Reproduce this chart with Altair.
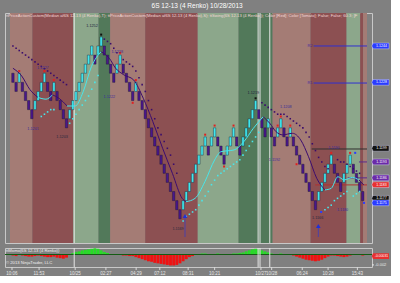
import altair as alt
import pandas as pd

# ---------------- data ----------------
BRICK = 0.0004
brick_dir = ["D","D","U","D","D","D","D","U","U","U",
             "U","D","D","U","D","D","D","D","U","U",
             "U","U","U","U","U","U","D","U","U","D",
             "D","D","D","U","U","D","D","D","D","U",
             "D","D","D","D","D","D","D","D","D","D",
             "D","D","D","D","U","U","U","U","U","U",
             "U","U","D","U","U","D","D","D","U","U",
             "U","D","D","U","U","U","U","U","D","D",
             "D","U","D","D","U","U","D","D","U","D",
             "D","D","D","D","D","D","D","U","U","U",
             "U","U","D","D","D","U","U","U","D","D",
             "D","D"]
brick_low = [1.1228,1.1224,1.1228,1.1224,1.1220,1.1216,1.1212,1.1216,1.1220,1.1224,
             1.1228,1.1224,1.1220,1.1224,1.1220,1.1216,1.1212,1.1208,1.1212,1.1216,
             1.1220,1.1224,1.1228,1.1232,1.1236,1.1240,1.1236,1.1240,1.1244,1.1240,
             1.1236,1.1232,1.1228,1.1232,1.1236,1.1232,1.1228,1.1224,1.1220,1.1224,
             1.1220,1.1216,1.1212,1.1208,1.1204,1.1200,1.1196,1.1192,1.1188,1.1184,
             1.1180,1.1176,1.1172,1.1168,1.1172,1.1176,1.1180,1.1184,1.1188,1.1192,
             1.1196,1.1200,1.1196,1.1200,1.1204,1.1200,1.1196,1.1192,1.1196,1.1200,
             1.1204,1.1200,1.1196,1.1200,1.1204,1.1208,1.1212,1.1216,1.1212,1.1208,
             1.1204,1.1208,1.1204,1.1200,1.1204,1.1208,1.1204,1.1200,1.1204,1.1200,
             1.1196,1.1192,1.1188,1.1184,1.1180,1.1176,1.1172,1.1176,1.1180,1.1184,
             1.1188,1.1192,1.1188,1.1184,1.1180,1.1184,1.1188,1.1192,1.1188,1.1184,
             1.1180,1.1176]

momentum = [-0.0002,-0.0003,-0.0001,-0.0002,-0.0003,-0.0004,-0.0004,
            -0.0003,-0.0002,-0.0003,-0.0004,-0.0005,-0.0005,-0.0004,-0.0006,-0.0007,-0.0008,-0.0006,
            0.0001,0.0003,0.0005,0.0006,0.0008,0.0009,0.0010,0.0011,0.0012,0.0011,0.0008,0.0005,0.0003,
            0.0001,0.0000,-0.0001,-0.0001,-0.0002,-0.0002,-0.0003,-0.0003,
            -0.0005,-0.0007,-0.0009,-0.0011,-0.0013,-0.0014,-0.0016,-0.0017,-0.0018,-0.0019,-0.0020,-0.0021,-0.0021,-0.0020,-0.0017,
            -0.0013,-0.0009,-0.0005,-0.0003,-0.0001,
            0.0001,0.0002,0.0002,0.0001,0.0000,0.0001,0.0002,0.0001,-0.0001,-0.0001,0.0001,0.0002,0.0002,0.0003,
            0.0004,0.0006,0.0008,0.0010,0.0011,0.0010,0.0008,0.0006,0.0004,0.0002,
            0.0001,0.0001,0.0002,0.0001,0.0000,-0.0001,-0.0002,
            -0.0004,-0.0006,-0.0008,-0.0010,-0.0011,-0.0012,-0.0013,-0.0012,-0.0010,-0.0007,-0.0004,-0.0002,
            -0.0002,-0.0003,-0.0004,-0.0005,-0.0004,-0.0002,-0.0001,0.0001,0.0000,-0.0002]

# smoothed average, by segment (c = rising/cyan, p = falling/purple)
avg_seg = ["p1"]*4 + ["c1"]*3 + ["p2"]*3 + ["c2"]*5 + ["p3"]*11 + ["c3"]*9 + ["p4"]*9 + ["c4"]*6 + ["p5"]*2
avg_idx = [0, 2.78, 5.35, 7.92,
           7.92, 10.49, 12.55,
           12.55, 14.6, 17.18,
           17.18, 19.75, 22.3, 24.9, 27.98,
           27.98, 30.56, 32.6, 35.19, 38.27, 41.36, 44.4, 47.5, 50.6, 53.7, 54.9,
           54.9, 57.8, 60.9, 64, 66, 70.2, 73.25, 76.3, 79.4,
           79.4, 81.5, 83.5, 85.6, 88.7, 91.3, 93.8, 96.4, 99,
           99, 101, 103.1, 105.1, 107.7, 109.8,
           109.8, 111.3]
avg_val = [1.12342, 1.12308, 1.12249, 1.12214,
           1.12214, 1.12206, 1.12225,
           1.12225, 1.12210, 1.12176,
           1.12176, 1.12176, 1.12239, 1.12349, 1.12415,
           1.12415, 1.12386, 1.12342, 1.12313, 1.12291, 1.12210, 1.12107, 1.11990, 1.11880, 1.11770, 1.11755,
           1.11755, 1.11770, 1.11843, 1.11939, 1.11975, 1.11983, 1.12019, 1.12078, 1.12129,
           1.12129, 1.12100, 1.12063, 1.12049, 1.12056, 1.12027, 1.11953, 1.11858, 1.11807,
           1.11807, 1.11814, 1.11865, 1.11851, 1.11862, 1.11851,
           1.11851, 1.11829]

# trailing-stop dots
trail_up_idx = [9,10,11,12,13,
                18,19,20,21,22,23,24,25,26,27,
                54,55,56,57,58,59,60,61,62,63,64,65,66,67,68,69,70,71,72,73,74,75,76,77,78,
                99,100,101,102,103,104,105,106,
                108,109,110]
trail_up_val = [1.1213,1.1214,1.1215,1.1216,1.1216,
                1.1210,1.1212,1.1214,1.1216,1.1218,1.1220,1.1222,1.1225,1.1228,1.1231,
                1.1167,1.1169,1.1170,1.1171,1.1172,1.1174,1.1176,1.1178,1.1180,1.1183,1.1185,1.1187,1.1188,
                1.1189,1.1190,1.1191,1.1192,1.1193,1.1194,1.1196,1.1198,1.1200,1.1202,1.1204,1.1206,
                1.1172,1.1173,1.1174,1.1176,1.1177,1.1178,1.1179,1.1180,
                1.1178,1.1179,1.1180]
trail_dn_idx = list(range(0, 18)) + [29,30,31,32,33] + list(range(35, 53)) + list(range(79, 101)) + list(range(103, 111))
trail_dn_val = [1.1244,1.1243,1.1242,1.1241,1.1240,1.1239,1.1238,1.1237,1.1236,1.1235,
                1.1234,1.1233,1.1232,1.1231,1.1230,1.1229,1.1228,1.1227,
                1.1247,1.1246,1.1245,1.1243,1.1241,
                1.1238,1.1237,1.1236,1.1235,1.1233,1.1230,1.1227,1.1224,1.1220,1.1216,1.1212,1.1208,
                1.1205,1.1202,1.1199,1.1196,1.1192,1.1188,
                1.1219,1.1218,1.1217,1.1216,1.1215,1.1214,1.1214,1.1214,1.1213,1.1212,1.1211,1.1210,
                1.1209,1.1208,1.1206,1.1204,1.1201,1.1198,1.1195,1.1193,1.1191,1.1190,
                1.1194,1.1193,1.1193,1.1192,1.1191,1.1190,1.1189,1.1188]

# swing dots
dot_idx = [2, 10, 13, 28, 34, 38, 39, 61, 64, 67, 70, 77, 84, 85, 88, 90, 101, 107, 97.8, 108.6, 111.4]
dot_val = [1.1233, 1.1233, 1.1229, 1.1249, 1.1241, 1.1219, 1.1229, 1.1205, 1.1209, 1.1191, 1.1209,
           1.1221, 1.1209, 1.1213, 1.1209, 1.1192, 1.1197, 1.1197, 1.1171, 1.1197, 1.1175]
dot_col = ["#e02020"]*3 + ["#101010"] + ["#e02020"]*7 + ["#101010"] + ["#e02020"]*6 + ["#2a3cff"]*3

# swing labels
lab_text = ["1.1252", "1.1227", "1.1201", "1.1203", "1.1222", "1.1228", "1.1169",
            "1.1219", "1.1192", "1.1208", "1.1166", "1.1190", "1.1180"]
lab_idx = [25.1, 9.5, 6.4, 15.6, 30.6, 33.1, 52.4, 76.3, 83.0, 86.6, 96.7, 101.9, 104.6]
lab_val = [1.12528, 1.12342, 1.12074, 1.12038, 1.12217, 1.12415, 1.11634,
           1.12235, 1.11939, 1.12170, 1.11682, 1.11990, 1.11719]
lab_col = ["#1c1c3a", "#3a2c9a", "#3a2c9a", "#2a2a40", "#3a2c9a", "#3a2c9a", "#2a2a40",
           "#1c1c3a", "#3a2c9a", "#3a2c9a", "#2a2a40", "#3a2c9a", "#3a2c9a"]

# swing-low arrows
arrow_idx = [54.6, 96.9]
arrow_val = [1.11692, 1.11648]
arrow_base = 1.1160

# horizontal levels on the right
lvl_start = [95.4, 95.4, 94.8, 95.9, 106.2, 109.8]
lvl_val = [1.1244, 1.12277, 1.11987, 1.11829, 1.1186, 1.1193]
lvl_col = ["#3030d0", "#3030d0", "#303030", "#b03030", "#5a2a90", "#5a2a90"]
lvl_name = ["R2", "R1", "", "", "", ""]

# right-axis value flags
flag_val = [1.1244, 1.1228, 1.1199, 1.1193, 1.1186, 1.1183, 1.1177, 1.1175]
flag_txt = ["1.1244", "1.1228", "1.1199", "1.1193", "1.1186", "1.1183", "1.1177", "1.1175"]
flag_col = ["#2a3cff", "#2a3cff", "#101010", "#6a2aa8", "#6a2aa8", "#e83030", "#101010", "#2a3cff"]

# background session bands
band_start = [-0.93, 6.17, 19.14, 27.16, 30.86, 41.98, 58.64, 71.6, 82.4, 94.44, 105.86, 110.19, 111.11]
band_end = [6.17, 19.14, 27.16, 30.86, 41.98, 58.64, 71.6, 82.4, 94.44, 105.86, 110.19, 111.11, 112.35]
band_kind = ["lr", "dr", "lg", "dg", "lr", "dr", "lg", "dg", "lr", "dr", "lg", "dr", "lr"]
session_lines = [19.44, 77.8, 78.4, 81.5]

# time axis
time_pos = [-0.3, 8.3, 19.75, 29.5, 39.1, 46.6, 55.6, 64, 78.7, 82.1, 91.8, 100, 109.3]
time_lab = ["10:06", "11:53", "10/25", "02:27", "04:29", "07:12", "08:31", "10:21",
            "10/27", "10/28", "06:24", "10:28", "15:43"]
price_ticks = [1.1160, 1.1165, 1.1170, 1.1175, 1.1180, 1.1185, 1.1190, 1.1195, 1.1200, 1.1205,
               1.1210, 1.1215, 1.1220, 1.1225, 1.1230, 1.1235, 1.1240, 1.1245, 1.1250, 1.1255]
momo_tick = [-0.002]
momo_tick_lab = ["-0.002"]

# ---------------- styling ----------------
W, H, HI = 367, 230, 19
FONT = "Liberation Sans"
CYAN, PURP = "#3fe8ee", "#4a168c"
LINE_C, LINE_P = "#48e6ea", "#3c0c6e"
BAND_COL = {"lr": "#a47c75", "dr": "#8c5052", "lg": "#8ca78b", "dg": "#52795a"}
AXIS_TXT = "#e8e8e8"

# ---------------- frames ----------------
bricks = pd.DataFrame({"i": list(range(len(brick_low))), "low": brick_low, "dir": brick_dir})
bricks["high"] = bricks["low"] + BRICK
bricks["col"] = bricks["dir"].map({"U": CYAN, "D": PURP})
momo = pd.DataFrame({"i": list(range(len(momentum))), "v": momentum})
momo["b"] = 0.0
momo["col"] = ["#26dc26" if v >= 0 else "#ee1212" for v in momentum]
avg = pd.DataFrame({"i": avg_idx, "v": avg_val, "seg": avg_seg})
avg["col"] = avg["seg"].str[0].map({"c": LINE_C, "p": LINE_P})
trails = pd.concat([
    pd.DataFrame({"i": trail_up_idx, "v": trail_up_val, "col": LINE_C}),
    pd.DataFrame({"i": trail_dn_idx, "v": trail_dn_val, "col": "#3a0c6c"}),
])
dots = pd.DataFrame({"i": dot_idx, "v": dot_val, "c": dot_col})
labs = pd.DataFrame({"i": lab_idx, "v": lab_val, "t": lab_text, "c": lab_col})
arrows = pd.DataFrame({"i": arrow_idx, "v": arrow_val, "b": arrow_base})
lvls = pd.DataFrame({"s": lvl_start, "e": 112.35, "v": lvl_val, "c": lvl_col, "n": lvl_name})
flags = pd.DataFrame({"v": flag_val, "t": flag_txt, "c": flag_col})
bands = pd.DataFrame({"s": band_start, "e": band_end, "k": band_kind})
bands["col"] = bands["k"].map(BAND_COL)
sess = pd.DataFrame({"x": session_lines})
times = pd.DataFrame({"x": time_pos, "t": time_lab})
mticks = pd.DataFrame({"v": momo_tick, "t": momo_tick_lab})

xs = alt.Scale(domain=[-0.93, 112.35], nice=False, zero=False)
ys = alt.Scale(domain=[1.115736, 1.12585], nice=False, zero=False)
ms = alt.Scale(domain=[-0.0024, 0.00125], nice=False, zero=False)
X = lambda f: alt.X(f, type="quantitative", scale=xs, axis=None)
Y = lambda f: alt.Y(f, type="quantitative", scale=ys, axis=None)
MY = lambda f: alt.Y(f, type="quantitative", scale=ms, axis=None)
C = lambda f: alt.Color(f, type="nominal", scale=None, legend=None)

band_layer = alt.Chart(bands).mark_rect().encode(
    x=X("s"), x2="e", y=alt.value(0), y2=alt.value(H), color=C("col"))
sess_layer = alt.Chart(sess).mark_rule(color="#e6e6e6", strokeWidth=1).encode(x=X("x"))
lvl_layer = alt.Chart(lvls).mark_rule(strokeWidth=1).encode(
    x=X("s"), x2="e", y=Y("v"), color=C("c"))
lvl_text = alt.Chart(lvls).mark_text(fontSize=4, font=FONT, color="#4a2aa0", align="right", dx=-1).encode(
    x=X("s"), y=Y("v"), text="n:N")
arrow_rule = alt.Chart(arrows).mark_rule(color="#4a40a8", strokeWidth=1).encode(
    x=X("i"), y=Y("v"), y2="b")
arrow_pt = alt.Chart(arrows).mark_point(shape="triangle-up", filled=True, size=22, opacity=1,
                                        color="#2030d8").encode(x=X("i"), y=Y("v"))
brick_layer = alt.Chart(bricks).mark_bar(size=2.4, stroke="#1a1a30", strokeWidth=0.4).encode(
    x=X("i"),
    y=alt.Y("low:Q", scale=ys, axis=alt.Axis(
        orient="right", values=price_ticks, format=".4f", title=None, grid=False,
        labelFontSize=4, labelFont=FONT, labelColor=AXIS_TXT, tickColor=AXIS_TXT,
        tickSize=2, labelPadding=1, domainColor="#c8c8c8")),
    y2="high", color=C("col"))
avg_layer = alt.Chart(avg).mark_line(strokeWidth=1, interpolate="monotone").encode(
    x=X("i"), y=Y("v"), detail="seg:N", order="i:Q", color=C("col"))
trail_layer = alt.Chart(trails).mark_square(size=2.5, opacity=1).encode(
    x=X("i"), y=Y("v"), color=C("col"))
dot_layer = alt.Chart(dots).mark_square(size=4, opacity=1).encode(
    x=X("i"), y=Y("v"), color=C("c"))
lab_layer = alt.Chart(labs).mark_text(fontSize=3.8, font=FONT).encode(
    x=X("i"), y=Y("v"), text="t:N", color=C("c"))
flag_shape = "M-1.15,0L-1,-0.36L1,-0.36L1,0.36L-1,0.36Z"
flag_layer = alt.Chart(flags).mark_point(shape=flag_shape, filled=True, size=256, opacity=1,
                                         stroke="#e0e0ff", strokeWidth=0.4).encode(
    x=alt.value(W + 9), y=Y("v"), fill=alt.Fill("c:N", scale=None, legend=None))
flag_text = alt.Chart(flags).mark_text(fontSize=3.6, font=FONT, color="white").encode(
    x=alt.value(W + 9.5), y=Y("v"), text="t:N")
header = alt.Chart(pd.DataFrame({"t": [
    "ttPriceActionCustom(Median af6S 12-13 (4 Renko),T); ttPriceActionCustom(Median af6S 12-13 (4 Renko),S); "
    "ttSwing(6S 12-13 (4 Renko)); Color [Red]; Color [Tomato]; False; False; 60.3; [F"]})).mark_text(
    fontSize=4.2, font=FONT, color="#f2d6d6", align="left", baseline="middle").encode(
    x=alt.value(1), y=alt.value(3), text="t:N")

price = alt.layer(band_layer, sess_layer, lvl_layer, lvl_text, arrow_rule, brick_layer, avg_layer,
                  trail_layer, dot_layer, arrow_pt, lab_layer, flag_layer, flag_text, header
                  ).properties(width=W, height=H)

# indicator panel
momo_bars = alt.Chart(momo).mark_bar(size=2.9).encode(
    x=X("i"), y=MY("v"), y2="b", color=C("col"))
zero = alt.Chart(pd.DataFrame({"z": [0.0]})).mark_rule(color="#145c14", strokeWidth=1.2).encode(y=MY("z"))
msess = alt.Chart(sess).mark_rule(color="#e6e6e6", strokeWidth=1).encode(x=X("x"))
time_ticks = alt.Chart(times).mark_rule(color="#d8d8d8", strokeWidth=1).encode(
    x=X("x"), y=alt.value(HI), y2=alt.value(HI + 3))
time_text = alt.Chart(times).mark_text(fontSize=4.5, font=FONT, color=AXIS_TXT, baseline="middle").encode(
    x=X("x"), y=alt.value(HI + 7), text="t:N")
mtick_rule = alt.Chart(mticks).mark_rule(color=AXIS_TXT, strokeWidth=1).encode(
    x=alt.value(W), x2=alt.value(W + 2), y=MY("v"))
mtick_text = alt.Chart(mticks).mark_text(fontSize=4, font=FONT, color=AXIS_TXT, align="left",
                                         baseline="middle").encode(
    x=alt.value(W + 3), y=MY("v"), text="t:N")
mtext1 = alt.Chart(pd.DataFrame({"t": ["ttMomo(6S 12-13 (4 Renko))"]})).mark_text(
    fontSize=4.2, font=FONT, color="#f0f0f0", align="left", baseline="middle").encode(
    x=alt.value(1), y=alt.value(3), text="t:N")
mtext2 = alt.Chart(pd.DataFrame({"t": ["\u00a9 2013 NinjaTrader, LLC"]})).mark_text(
    fontSize=4.2, font=FONT, color="#f0f0f0", align="left", baseline="middle").encode(
    x=alt.value(1), y=alt.value(15), text="t:N")
mflag_df = pd.DataFrame({"v": [-0.00031], "t": ["-0.00031"]})
mflag = alt.Chart(mflag_df).mark_point(
    shape=flag_shape, filled=True, size=256, opacity=1, color="#e83030").encode(
    x=alt.value(W + 9), y=MY("v"))
mflag_t = alt.Chart(mflag_df).mark_text(fontSize=3.4, font=FONT, color="white").encode(
    x=alt.value(W + 9.5), y=MY("v"), text="t:N")
indicator = alt.layer(momo_bars, zero, msess, time_ticks, time_text, mtick_rule, mtick_text,
                      mtext1, mtext2, mflag, mflag_t).properties(width=W, height=HI)

chart = alt.vconcat(price, indicator, spacing=3).properties(
    title=alt.TitleParams("6S 12-13 (4 Renko)  10/28/2013", fontSize=6.5, color="#ffffff", font=FONT,
                          fontWeight="normal", anchor="middle", offset=3),
    padding={"left": 3, "top": 2, "right": 0, "bottom": 0},
    background="#808080",
).configure_view(stroke="#c8c8c8", strokeWidth=1)

chart.save("out.html", embed_options={"renderer": "svg", "actions": False})
